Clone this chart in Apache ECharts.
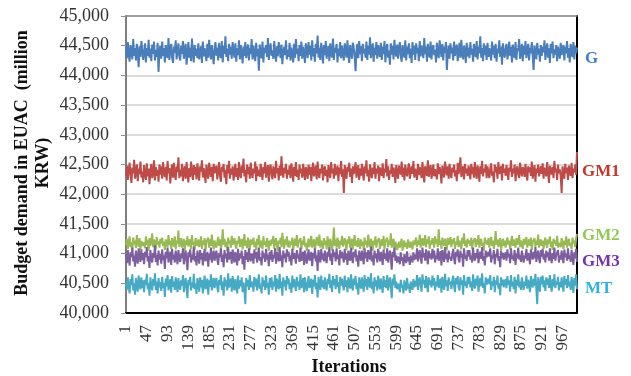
<!DOCTYPE html>
<html>
<head>
<meta charset="utf-8">
<script src="https://cdn.jsdelivr.net/npm/echarts@6/dist/echarts.min.js"></script>
<style>
html,body{margin:0;padding:0;background:#fff;}
#chart{width:631px;height:376px;}
</style>
</head>
<body>
<div id="chart"></div>
<script>
// Iterations (sampled every 2nd iteration: 1,3,5,...,999)
const iterations = [];
for (let it = 1; it <= 999; it += 2) iterations.push(String(it));

const yTicks = [40000, 40500, 41000, 41500, 42000, 42500, 43000, 43500, 44000, 44500, 45000];
const seriesNames = ['G', 'GM1', 'GM2', 'GM3', 'MT'];

const G = [
44480,44290,44560,44350,44230,44510,44400,44270,44610,44330,44460,44250,44530,44370,44140,44490,44310,44580,44420,44260,
44390,44540,44220,44460,44330,44600,44300,44450,44240,44520,44360,44570,44250,44430,44310,44550,44060,44410,44500,44280,
44570,44330,44460,44220,44510,44370,44290,44630,44260,44440,44530,44300,44210,44480,44380,44590,44270,44400,44540,44320,
44250,44500,44360,44580,44280,44420,44530,44180,44350,44560,44300,44470,44240,44620,44370,44220,44510,44330,44450,44290,
44540,44270,44400,44490,44210,44570,44320,44460,44360,44240,44530,44300,44600,44410,44270,44510,44350,44190,44450,44560,
44330,44470,44250,44550,44380,44290,44580,44220,44500,44360,44660,44310,44450,44240,44530,44350,44480,44280,44560,44410,
44300,44540,44230,44460,44340,44590,44270,44510,44380,44200,44480,44330,44560,44290,44420,44520,44250,44470,44360,44610,
44270,44500,44350,44240,44550,44320,44450,44080,44520,44360,44290,44570,44220,44470,44380,44510,44310,44630,44260,44440,
44540,44330,44420,44280,44580,44360,44230,44490,44320,44560,44440,44290,44520,44190,44400,44480,44340,44590,44270,44430,
44310,44550,44250,44470,44370,44220,44530,44300,44610,44360,44450,44240,44510,44330,44570,44280,44480,44390,44210,44540,
44420,44290,44560,44350,44500,44250,44590,44320,44460,44230,44530,44370,44670,44300,44470,44260,44550,44390,44200,44510,
44340,44580,44280,44430,44490,44240,44540,44370,44300,44620,44260,44470,44380,44530,44220,44450,44320,44560,44290,44500,
44370,44250,44540,44440,44300,44590,44350,44210,44510,44390,44280,44550,44460,44320,44070,44420,44530,44290,44580,44360,
44490,44240,44530,44370,44450,44300,44570,44260,44500,44350,44640,44290,44420,44540,44230,44470,44340,44560,44280,44510,
44390,44310,44550,44260,44480,44360,44580,44220,44440,44530,44300,44420,44180,44540,44350,44500,44270,44600,44380,44320,
44520,44280,44440,44560,44330,44230,44510,44380,44300,44590,44250,44480,44360,44540,44290,44450,44210,44560,44350,44500,
44260,44540,44370,44470,44240,44580,44320,44500,44410,44290,44630,44360,44480,44230,44530,44380,44300,44570,44270,44450,
44510,44340,44430,44220,44550,44370,44290,44590,44450,44310,44530,44250,44480,44380,44560,44090,44360,44500,44280,44540,
44370,44470,44250,44570,44330,44450,44520,44240,44390,44550,44300,44600,44360,44270,44500,44420,44210,44550,44320,44470,
44290,44560,44350,44450,44230,44530,44380,44310,44580,44270,44480,44370,44660,44300,44460,44240,44540,44340,44500,44260,
44550,44310,44460,44380,44250,44570,44350,44500,44290,44530,44230,44450,44370,44590,44310,44480,44180,44540,44390,44300,
44450,44530,44270,44390,44570,44330,44480,44220,44520,44370,44290,44560,44260,44460,44410,44610,44280,44370,44530,44240,
44500,44350,44580,44290,44420,44530,44250,44470,44370,44560,44320,44090,44500,44390,44270,44550,44350,44450,44230,44510,
44330,44480,44390,44590,44260,44420,44540,44300,44460,44210,44530,44370,44570,44290,44440,44350,44510,44240,44480,44380,
44280,44550,44340,44450,44510,44250,44480,44370,44580,44300,44460,44220,44530,44390,44310,44560,44270,44500,44370,44470
];

const GM1 = [
42310,42480,42240,42410,42530,42330,42190,42450,42350,42580,42260,42390,42500,42220,42430,42340,42550,42280,42380,42200,
42490,42350,42240,42520,42300,42430,42170,42390,42510,42270,42370,42570,42230,42460,42310,42410,42210,42500,42330,42470,
42260,42540,42360,42290,42460,42230,42560,42350,42440,42180,42390,42500,42280,42530,42340,42240,42470,42370,42620,42270,
42410,42300,42510,42220,42390,42470,42260,42540,42350,42200,42440,42290,42550,42370,42240,42490,42330,42460,42250,42520,
42350,42230,42470,42380,42570,42280,42440,42340,42190,42500,42370,42260,42530,42400,42290,42460,42220,42510,42350,42420,
42480,42250,42370,42540,42310,42210,42460,42380,42510,42280,42410,42170,42490,42350,42560,42260,42430,42330,42470,42230,
42380,42510,42290,42440,42240,42540,42350,42270,42480,42360,42600,42300,42410,42200,42500,42340,42460,42260,42530,42370,
42270,42430,42350,42550,42220,42470,42310,42410,42290,42510,42380,42240,42460,42350,42540,42280,42390,42490,42210,42430,
42500,42330,42250,42470,42370,42270,42560,42350,42440,42230,42480,42310,42640,42370,42280,42450,42350,42510,42260,42410,
42330,42480,42270,42520,42380,42210,42460,42310,42540,42290,42410,42240,42500,42350,42430,42280,42510,42370,42240,42460,
42380,42260,42500,42330,42460,42220,42400,42530,42300,42370,42480,42250,42550,42340,42270,42430,42350,42500,42230,42410,
42470,42310,42410,42200,42490,42370,42270,42540,42350,42430,42260,42510,42320,42390,42480,42220,42450,42340,42560,42290,
42420,42020,42490,42350,42260,42460,42380,42530,42290,42430,42190,42470,42340,42410,42540,42280,42380,42490,42240,42430,
42310,42510,42370,42230,42470,42350,42570,42300,42410,42210,42500,42380,42270,42450,42340,42540,42260,42430,42350,42480,
42220,42450,42380,42310,42520,42270,42430,42370,42590,42300,42470,42240,42400,42350,42510,42290,42450,42380,42190,42490,
42360,42260,42480,42400,42330,42550,42290,42450,42230,42500,42370,42300,42430,42520,42260,42380,42470,42340,42560,42280,
42430,42360,42240,42510,42320,42460,42390,42270,42540,42350,42200,42470,42380,42310,42570,42290,42400,42490,42260,42370,
42500,42300,42420,42350,42250,42520,42340,42460,42380,42180,42480,42370,42280,42550,42400,42320,42470,42260,42510,42350,
42270,42450,42370,42500,42300,42400,42220,42530,42340,42440,42620,42290,42380,42470,42250,42510,42350,42430,42310,42480,
42380,42250,42510,42340,42460,42280,42540,42370,42260,42480,42380,42210,42470,42340,42560,42300,42430,42370,42500,42270,
42470,42350,42270,42430,42520,42310,42380,42200,42500,42370,42460,42260,42540,42340,42400,42470,42230,42510,42360,42430,
42310,42490,42370,42240,42450,42380,42570,42290,42430,42350,42500,42220,42390,42470,42340,42270,42530,42380,42300,42460,
42400,42290,42510,42350,42230,42470,42370,42450,42310,42550,42260,42390,42490,42210,42430,42360,42500,42300,42380,42470,
42340,42520,42260,42450,42380,42300,42540,42360,42190,42480,42400,42330,42460,42270,42560,42370,42430,42240,42500,42350,
42420,42300,42020,42470,42370,42260,42510,42350,42450,42240,42480,42380,42310,42530,42270,42430,42370,42500,42330,42710
];

const GM2 = [
41140,41250,41080,41200,41290,41110,41190,41050,41270,41160,41220,41090,41310,41170,41120,41260,41060,41210,41240,41130,
41190,41090,41290,41150,41230,41050,41260,41130,41210,41340,41110,41240,41170,41070,41280,41150,41210,41100,41250,41170,
41270,41130,41200,41060,41240,41170,41110,41310,41150,41220,41080,41260,41190,41120,41290,41070,41220,41170,41390,41110,
41200,41260,41100,41170,41250,41040,41220,41150,41290,41120,41190,41240,41080,41310,41150,41200,41060,41260,41170,41130,
41240,41110,41180,41290,41080,41220,41150,41260,41050,41200,41170,41270,41100,41240,41130,41320,41170,41070,41220,41150,
41100,41200,41280,41130,41240,41060,41180,41410,41150,41250,41110,41200,41040,41270,41170,41220,41100,41300,41150,41200,
41260,41150,41080,41220,41170,41290,41110,41200,41250,41070,41180,41330,41130,41220,41090,41270,41170,41060,41240,41150,
41190,41270,41110,41200,41060,41250,41150,41310,41100,41220,41170,41070,41290,41150,41200,41110,41260,41180,41050,41220,
41130,41240,41170,41300,41080,41200,41260,41130,41040,41220,41170,41270,41110,41350,41180,41080,41240,41150,41290,41110,
41220,41100,41200,41150,41270,41060,41180,41250,41130,41310,41100,41200,41170,41260,41070,41220,41150,41290,41120,41180,
41050,41170,41250,41110,41200,41300,41100,41180,41240,41060,41150,41280,41200,41130,41320,41100,41220,41170,41080,41260,
41150,41220,41070,41290,41170,41110,41250,41180,41050,41200,41440,41130,41240,41100,41270,41170,41080,41220,41150,41300,
41120,41200,41260,41150,41060,41240,41170,41290,41100,41180,41250,41070,41200,41310,41130,41220,41110,41260,41170,41080,
41240,41130,41200,41060,41270,41150,41220,41100,41320,41170,41110,41250,41180,41050,41220,41150,41290,41100,41200,41170,
41260,41080,41180,41240,41130,41300,41070,41200,41170,41270,41110,41220,41150,41340,41100,41180,41250,41060,41200,41150,
41060,41140,41200,41100,41170,41250,41050,41150,41220,41110,41180,41080,41240,41150,41100,41200,41170,41070,41220,41140,
41170,41270,41110,41220,41150,41320,41100,41200,41260,41130,41180,41310,41110,41240,41170,41290,41080,41220,41150,41260,
41200,41100,41290,41170,41240,41110,41410,41150,41220,41080,41270,41180,41130,41250,41170,41060,41260,41150,41200,41280,
41110,41240,41170,41260,41080,41200,41150,41300,41110,41220,41180,41070,41270,41170,41340,41130,41220,41100,41250,41170,
41220,41130,41270,41070,41200,41170,41260,41110,41240,41150,41310,41100,41200,41250,41130,41180,41050,41270,41170,41220,
41150,41260,41100,41200,41280,41130,41220,41080,41180,41380,41150,41240,41110,41200,41260,41060,41170,41250,41130,41220,
41100,41200,41270,41150,41220,41070,41180,41300,41130,41240,41170,41100,41260,41150,41200,41310,41110,41220,41170,41080,
41250,41150,41200,41280,41100,41180,41240,41130,41270,41060,41200,41170,41260,41110,41220,41150,41320,41100,41180,41240,
41130,41220,41080,41200,41270,41150,41100,41240,41170,41290,41110,41200,41060,41250,41170,41220,41130,41300,41100,41180,
41200,41110,41260,41170,41080,41220,41150,41290,41100,41200,41250,41130,41180,41070,41270,41170,41220,41110,41260,41330
];

const GM3 = [
40990,40840,41060,40910,40800,41020,40940,41100,40870,40970,40780,41050,40920,40830,41090,40960,40860,41070,40890,41010,
40820,41030,40940,41110,40870,40960,40760,41060,40920,40850,41010,40930,41140,40860,40980,40800,41050,40900,40990,40830,
41070,40890,40970,40740,41030,40920,41100,40850,40960,41030,40810,41080,40900,40980,40850,41050,40940,40820,41060,40920,
40860,41000,40920,41090,40820,40950,41050,40880,40720,41020,40940,41070,40850,40980,40900,41120,40870,40960,40800,41050,
40940,40830,41060,40900,41010,40800,40970,41080,40870,40940,41030,40780,41000,40900,41100,40850,40960,41050,40880,40980,
41050,40900,40810,41010,40940,41090,40860,40980,40770,41060,40920,41000,40850,41110,40900,40960,41030,40830,41070,40940,
40850,41030,40930,40800,41080,40880,41000,40920,41050,40820,40960,40730,41060,40900,41020,40860,41090,40940,40870,41000,
40960,40830,41070,40920,41030,40850,40970,41100,40880,40940,40800,41050,40920,41000,40860,41080,40900,40980,40790,41030,
40900,41060,40860,40980,40920,41090,40830,41030,40940,40870,41110,40880,40970,40770,41050,40920,41000,40850,41070,40950,
41030,40870,40970,40800,41080,40910,41010,40940,40830,41060,40920,40980,40860,41100,40880,40960,41030,40810,41050,40940,
40830,40970,41070,40880,40950,41030,40790,41010,40920,41090,40870,40970,40710,41060,40940,40850,41080,40900,41000,40870,
41050,40920,40840,41030,40950,41110,40880,41000,40810,41070,40940,41020,40870,41090,40910,40980,40800,41060,40920,41030,
40940,40850,41080,40900,41000,40810,41050,40950,40880,41100,40920,40840,41030,40940,41070,40870,40970,40780,41050,40950,
40880,41050,40940,40820,41090,40920,41020,40860,41060,40950,40900,41120,40870,40970,40800,41050,40920,41000,40850,41080,
40970,40870,41030,40940,40810,41070,40910,41000,40880,41090,40850,40950,41050,40920,40730,41030,40940,41100,40880,40970,
40850,40950,40910,40820,41020,40880,40940,40790,40990,40900,40840,41040,40870,40940,40810,40970,40910,40850,41020,40890,
40980,40910,41090,40870,40970,41060,40920,40830,41100,40940,41010,40880,41070,40950,40820,41050,40920,41000,40900,41080,
40920,41050,40850,40970,40910,41090,40880,40960,41040,40800,41060,40940,40860,41110,40910,40990,40850,41050,40940,40970,
40880,40990,41080,40910,40820,41030,40950,41070,40900,40850,41050,40940,40990,40780,41090,40920,40970,40880,41060,40950,
41060,40900,40970,40850,41100,40940,40880,41010,40920,41080,40840,40970,41030,40910,41110,40880,40960,40800,41050,40940,
40910,41030,40950,41090,40850,40970,40920,41060,40820,40990,40940,41080,40880,40960,40770,41050,40920,41010,40900,40970,
41020,40880,41070,40940,40990,40840,41090,40910,40970,40880,41060,40810,41000,40920,41100,40900,40970,40860,41050,40940,
40850,40970,40920,41080,40880,41010,40940,40820,41070,40950,40900,41030,40920,41110,40860,40970,41050,40910,40840,41060,
40950,41080,40900,40990,40850,41050,40940,41020,40880,41090,40920,40840,41010,40910,41100,40880,40970,40940,41060,40850,
40970,40900,41050,40920,40840,41070,40940,41000,40880,41090,40910,40970,40860,41060,40940,40810,41020,40920,41080,40860
];

const MT = [
40520,40390,40600,40440,40330,40570,40470,40650,40380,40500,40310,40590,40450,40360,40630,40490,40400,40600,40420,40550,
40350,40560,40470,40660,40400,40510,40290,40600,40460,40380,40570,40460,40670,40390,40530,40330,40590,40430,40520,40370,
40610,40420,40510,40270,40580,40450,40640,40380,40490,40570,40340,40620,40440,40530,40390,40600,40470,40350,40590,40450,
40390,40550,40460,40640,40350,40490,40590,40410,40250,40560,40470,40610,40380,40510,40430,40660,40400,40490,40320,40590,
40480,40360,40600,40430,40560,40330,40500,40630,40400,40470,40580,40310,40550,40440,40650,40380,40490,40590,40420,40530,
40590,40430,40350,40560,40470,40640,40390,40530,40290,40600,40450,40550,40380,40670,40430,40500,40580,40360,40620,40470,
40380,40570,40470,40330,40630,40410,40550,40450,40600,40350,40510,40400,40150,40590,40450,40560,40390,40640,40430,40530,
40490,40360,40610,40450,40580,40380,40500,40650,40410,40470,40330,40600,40450,40550,40390,40630,40430,40510,40310,40590,
40430,40600,40390,40530,40450,40640,40360,40580,40470,40400,40660,40420,40530,40290,40600,40450,40550,40380,40620,40490,
40580,40400,40510,40340,40630,40430,40570,40470,40370,40610,40450,40530,40390,40650,40420,40490,40590,40350,40600,40470,
40370,40500,40620,40420,40490,40580,40320,40560,40450,40640,40400,40510,40260,40610,40470,40390,40630,40430,40550,40400,
40600,40450,40380,40570,40490,40660,40420,40550,40350,40620,40470,40570,40400,40640,40440,40520,40330,40610,40460,40580,
40470,40380,40630,40440,40550,40350,40600,40490,40410,40650,40450,40380,40580,40470,40620,40400,40510,40310,40600,40490,
40410,40600,40470,40360,40640,40450,40570,40390,40610,40490,40430,40670,40400,40530,40330,40600,40450,40550,40380,40630,
40500,40400,40580,40460,40340,40620,40440,40550,40420,40640,40380,40490,40600,40450,40250,40580,40470,40650,40420,40530,
40400,40490,40440,40350,40560,40430,40470,40330,40550,40440,40380,40590,40410,40480,40340,40530,40460,40390,40570,40430,
40540,40450,40640,40390,40530,40600,40470,40360,40650,40490,40560,40420,40620,40500,40350,40600,40470,40550,40430,40630,
40460,40590,40380,40530,40450,40640,40420,40500,40580,40340,40610,40480,40390,40660,40450,40550,40370,40600,40480,40530,
40400,40550,40630,40450,40350,40590,40490,40620,40430,40380,40600,40480,40550,40310,40640,40460,40530,40420,40610,40490,
40610,40430,40530,40370,40650,40480,40410,40580,40460,40630,40360,40520,40590,40450,40670,40420,40500,40330,40600,40480,
40450,40580,40490,40640,40390,40530,40460,40610,40350,40550,40480,40630,40410,40500,40300,40600,40460,40560,40430,40530,
40570,40420,40620,40480,40550,40360,40640,40450,40530,40400,40610,40330,40560,40460,40650,40430,40530,40390,40600,40480,
40390,40530,40460,40630,40410,40560,40480,40350,40620,40490,40430,40580,40460,40660,40400,40150,40600,40450,40360,40610,
40490,40630,40430,40550,40370,40600,40480,40580,40420,40640,40460,40360,40570,40450,40650,40420,40530,40480,40610,40380,
40520,40430,40600,40470,40360,40620,40480,40570,40420,40640,40450,40530,40390,40610,40480,40340,40590,40460,40650,40400
];

const seriesData = [G, GM1, GM2, GM3, MT];
const lineColors = ['#4a7ebb', '#be4b48', '#98b954', '#7d5fa0', '#46aac5'];
const labelColors = ['#3f7fcb', '#c0392b', '#92c955', '#7433a8', '#2fb3e3'];
const labelY = [59, 172, 236, 262, 289];

const serif = '"Liberation Serif", "Times New Roman", serif';
const chart = echarts.init(document.getElementById('chart'), null, {renderer: 'canvas'});

const option = {
  animation: false,
  backgroundColor: '#fff',
  grid: {left: 126, right: 54, top: 16, bottom: 63, show: false},
  xAxis: [{
    type: 'category',
    data: iterations,
    boundaryGap: false,
    axisLine: {show: true, lineStyle: {color: '#000', width: 2}},
    axisTick: {show: false},
    axisLabel: {interval: 22, rotate: 90, margin: 12, fontFamily: serif, fontSize: 17, color: '#333'},
    splitLine: {show: false}
  }, {
    type: 'category',
    data: iterations,
    position: 'top',
    boundaryGap: false,
    axisLine: {show: true, lineStyle: {color: '#8c8c8c', width: 1.5}},
    axisTick: {show: false},
    axisLabel: {show: false}
  }],
  yAxis: [{
    type: 'value',
    min: yTicks[0],
    max: yTicks[yTicks.length - 1],
    interval: 500,
    axisLine: {show: true, lineStyle: {color: '#7f7f7f', width: 2}},
    axisTick: {show: true, inside: false, length: 5, lineStyle: {color: '#8c8c8c'}},
    axisLabel: {
      margin: 17, fontFamily: serif, fontSize: 18, color: '#333',
      formatter: v => v.toLocaleString('en-US')
    },
    splitLine: {show: true, lineStyle: {color: '#cfcfcf', width: 1.5}}
  }, {
    type: 'value',
    position: 'right',
    min: yTicks[0],
    max: yTicks[yTicks.length - 1],
    interval: 500,
    axisLine: {show: true, lineStyle: {color: '#000', width: 2}},
    axisTick: {show: false},
    axisLabel: {show: false},
    splitLine: {show: false}
  }],
  series: seriesNames.map((name, k) => ({
    name: name,
    type: 'line',
    data: seriesData[k],
    showSymbol: false,
    symbol: 'none',
    lineStyle: {color: lineColors[k], width: 2},
    z: 2 + k
  })),
  graphic: [
    {
      type: 'text',
      x: 33, y: 163,
      rotation: Math.PI / 2,
      style: {
        text: 'Budget demand in EUAC  (million\nKRW)',
        fontFamily: serif, fontSize: 18, fontWeight: 'bold', fill: '#111',
        align: 'center', verticalAlign: 'middle', lineHeight: 21
      }
    },
    {
      type: 'text',
      x: 349, y: 367,
      style: {
        text: 'Iterations',
        fontFamily: serif, fontSize: 18, fontWeight: 'bold', fill: '#111',
        align: 'center', verticalAlign: 'middle'
      }
    }
  ].concat(seriesNames.map((name, k) => ({
    type: 'text',
    x: name === 'G' || name === 'MT' ? 585 : 582,
    y: labelY[k],
    style: {
      text: name,
      fontFamily: serif, fontSize: 17, fontWeight: 'bold', fill: labelColors[k],
      align: 'left', verticalAlign: 'middle'
    }
  })))
};
chart.setOption(option);
</script>
</body>
</html>
